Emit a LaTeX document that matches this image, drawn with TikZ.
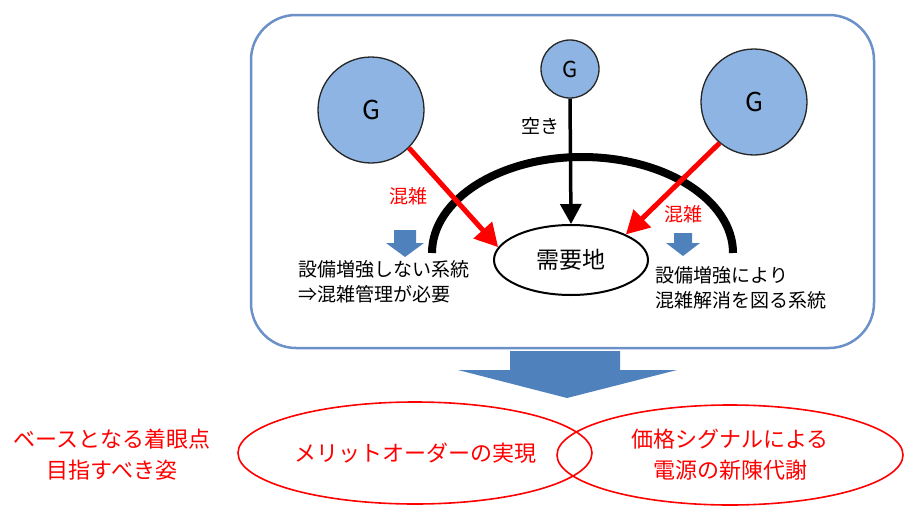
\documentclass[tikz,border=0pt]{standalone}
\usepackage{fontspec}
\setmainfont{Noto Sans CJK JP}
\usetikzlibrary{arrows.meta,shapes.geometric}

\definecolor{boxblue}{RGB}{108,145,200}
\definecolor{genblue}{RGB}{141,180,226}
\definecolor{arrowblue}{RGB}{79,129,189}

\tikzset{
  gen/.style={draw=black!85,circle,fill=genblue,line width=1.3pt,inner sep=0pt},
  flow/.style={-{Triangle[width=21pt,length=20pt]},line width=3.5pt},
  jam/.style={-{Triangle[width=24pt,length=23pt]},line width=5pt,red},
  goal/.style={draw=red,ellipse,line width=1.6pt,text=red,align=center,
    font=\fontsize{22}{31}\selectfont},
  txt/.style={font=\fontsize{19}{25}\selectfont,align=left},
}

\begin{document}
\begin{tikzpicture}[x=1pt,y=-1pt]
  \useasboundingbox (0,0) rectangle (905,506);
  \draw[boxblue,line width=2.5pt,rounded corners=45pt] (251,15) rectangle (874,348);

  % generators and demand
  \node [gen, minimum size=106pt, font=\fontsize{26}{26}\selectfont] (lg) at (371,110) {G};
  \node [gen, minimum size=58pt, font=\fontsize{22}{22}\selectfont] (tg) at (570,69) {G};
  \node [gen, minimum size=106pt, font=\fontsize{26}{26}\selectfont] (rg) at (754,102) {G};
  \node [draw,ellipse,line width=2pt,fill=white, minimum width=154pt, minimum height=70pt,
    font=\fontsize{23}{23}\selectfont] (dem) at (571,260) {需要地};

  % grid
  \coordinate (a1) at (432,253);
  \coordinate (a2) at (582,157);
  \coordinate (a3) at (733,253);
  \draw[line width=8pt]
    (a1) .. controls (432,200) and (499,157) .. (a2)
         .. controls (665,157) and (733,200) .. (a3);

  \draw[flow] (tg.south) -- (dem.north);
  \draw[jam] (lg.-45) -- (dem.170);
  \draw[jam] (rg.-130) -- (dem.25);

  \node [txt] (free) at (540,126) {空き};
  \node [txt,red] (jl) at (408,196) {混雑};
  \node [txt,red] (jr) at (683,214) {混雑};

  % small arrows
  \fill[arrowblue] (394,230) -- (416,230) -- (416,243) -- (424,243) -- (405,257)
    -- (386,243) -- (394,243) -- cycle;
  \fill[arrowblue] (674,233) -- (692,233) -- (692,243) -- (700,243) -- (683,256)
    -- (666,243) -- (674,243) -- cycle;

  \node [txt,anchor=west] (nl) at (295,282) {設備増強しない系統\\⇒混雑管理が必要};
  \node [txt,anchor=west] (nr) at (652,288) {設備増強により\\混雑解消を図る系統};

  % big arrow
  \fill[arrowblue] (510,351) -- (620,351) -- (620,370) -- (677,370) -- (567,398)
    -- (458,370) -- (510,370) -- cycle;

  \node [goal, minimum width=354pt, minimum height=102pt] (mo) at (415,453) {メリットオーダーの実現};
  \node [goal, minimum width=346pt, minimum height=100pt] (ps) at (730,455) {価格シグナルによる\\電源の新陳代謝};
  \node [align=center,red,font=\fontsize{22}{31}\selectfont] (base) at (112,455) {ベースとなる着眼点\\目指すべき姿};
\end{tikzpicture}
\end{document}
